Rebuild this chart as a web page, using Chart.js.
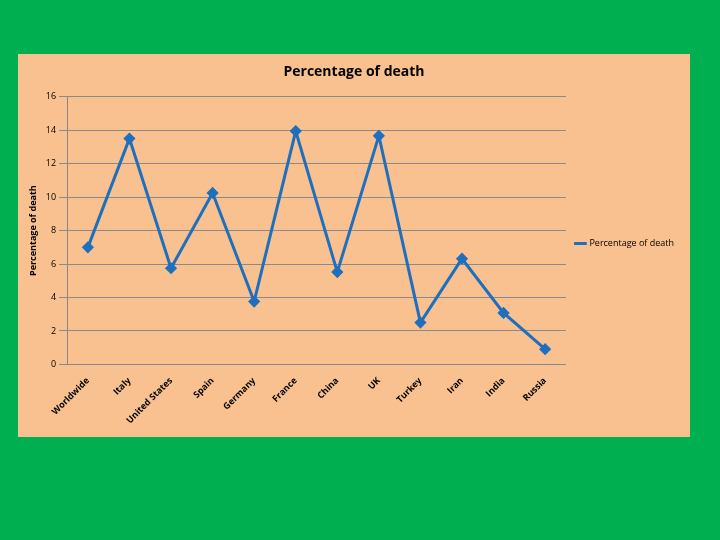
<!DOCTYPE html>
<html><head><script src="https://cdn.jsdelivr.net/npm/chart.js@4"></script>
<style>body{margin:0;width:720px;height:540px;background:#00b050;position:relative;overflow:hidden}
#w{position:absolute;left:18px;top:54px;width:672px;height:383px;background:#f9c18f}</style></head>
<body><div id="w"><canvas id="c" width="672" height="383"></canvas></div>
<script>
const categories=["Worldwide","Italy","United States","Spain","Germany","France","China","UK","Turkey","Iran","India","Russia"];
const values=[7.0,13.5,5.75,10.25,3.76,13.95,5.52,13.67,2.5,6.32,3.08,0.91];
const seriesName="Percentage of death";
const F="'Open Sans', Calibri, sans-serif";
new Chart(document.getElementById('c'),{type:'line',
data:{labels:categories,datasets:[{label:seriesName,data:values,borderColor:'#1f6fbf',backgroundColor:'#1f6fbf',borderWidth:3,pointStyle:'rectRot',pointRadius:4,tension:0}]},
options:{responsive:false,animation:false,
layout:{padding:{top:4,right:6,left:6,bottom:8}},
plugins:{title:{display:true,text:seriesName,color:'#000',font:{family:F,size:14,weight:'bold'},padding:{top:6,bottom:16}},
legend:{position:'right',labels:{usePointStyle:true,pointStyle:'line',boxWidth:22,color:'#000',font:{family:F,size:9}}}},
scales:{x:{offset:true,grid:{display:false},border:{color:'#888'},ticks:{color:'#000',minRotation:45,maxRotation:45,font:{family:F,size:9,weight:'bold'}}},
y:{min:0,max:16,ticks:{stepSize:2,color:'#000',font:{family:F,size:9}},grid:{color:'#8a8a8a',drawTicks:true},border:{color:'#888'},
title:{display:true,text:seriesName,color:'#000',font:{family:F,size:9,weight:'bold'}}}}}});
</script></body></html>
